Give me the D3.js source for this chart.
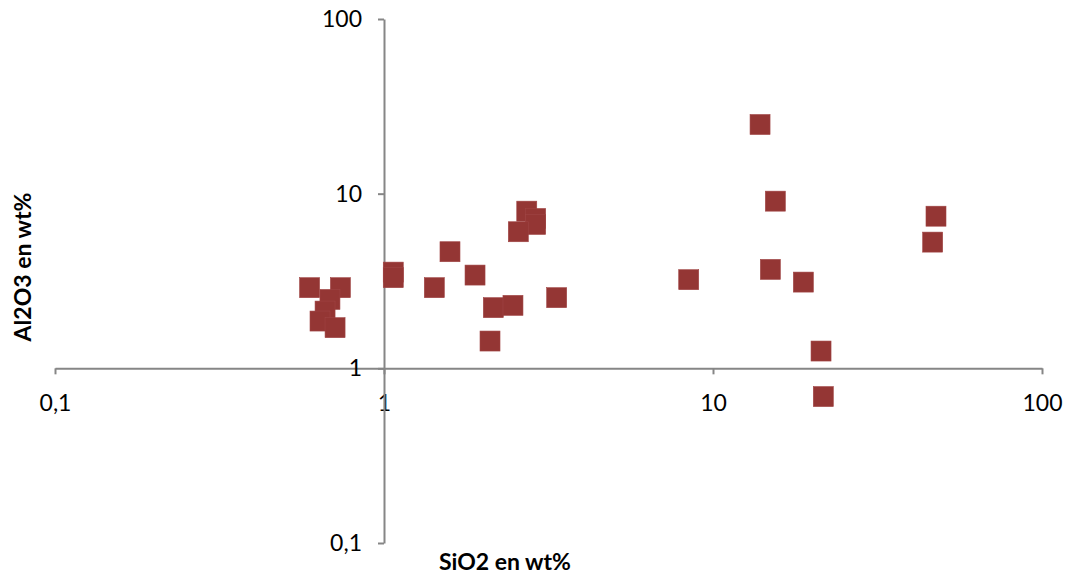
<!DOCTYPE html>
<html>
<head>
<meta charset="utf-8">
<script src="https://cdn.jsdelivr.net/npm/d3@7"></script>
<style>
  body { margin: 0; background: #fff; }
  text { font-family: Lato, "Open Sans", sans-serif; }
</style>
</head>
<body>
<svg id="chart"></svg>
<script>
const width = 1069;
const height = 576;

// SiO2 (wt%) and Al2O3 (wt%)
const sio2 = [0.594, 0.737, 0.685, 0.662, 0.639, 0.71, 1.067, 1.067, 1.422, 1.587,
  1.891, 2.149, 2.466, 2.1, 3.349, 2.716, 2.891, 2.891, 2.56, 8.437,
  13.9, 15.47, 14.94, 18.82, 21.3, 21.64, 47.62, 46.53];
const al2o3 = [2.895, 2.895, 2.48, 2.127, 1.865, 1.709, 3.555, 3.303, 2.895, 4.652,
  3.419, 2.225, 2.293, 1.433, 2.538, 7.94, 7.21, 6.665, 6.053, 3.217,
  24.88, 9.06, 3.685, 3.117, 1.256, 0.689, 7.43, 5.28];
const tickVals = [0.1, 1, 10, 100];

const svg = d3.select("#chart").attr("width", width).attr("height", height);

//scales
const x = d3.scaleLog().domain([0.1, 100]).range([55, 1042]);
const y = d3.scaleLog().domain([0.1, 100]).range([543, 19]);
const fmt = (d) => String(d).replace(".", ",");

// x axis crosses at y=1
const xAxis = svg
  .append("g")
  .attr("transform", `translate(0,${y(1)})`)
  .call(d3.axisBottom(x).tickValues(tickVals).tickFormat(fmt).tickSize(6).tickPadding(20).tickSizeOuter(0));

// y axis crosses at x=1
const yAxis = svg
  .append("g")
  .attr("transform", `translate(${x(1)},0)`)
  .call(d3.axisLeft(y).tickValues(tickVals).tickFormat(fmt).tickSize(6).tickPadding(16).tickSizeOuter(0));

[xAxis, yAxis].forEach((g) => {
  g.select(".domain").attr("stroke", "#868686").attr("stroke-width", 2);
  g.selectAll(".tick line").attr("stroke", "#868686").attr("stroke-width", 2);
  g.selectAll(".tick text")
    .attr("fill", "#000")
    .style("font-size", "23px")
    .style("font-family", "Lato, 'Open Sans', sans-serif");
});

// markers
const data = sio2.map((d, i) => ({ x: d, y: al2o3[i] }));
const s = 20;
svg
  .append("g")
  .selectAll("rect")
  .data(data)
  .join("rect")
  .attr("x", (d) => x(d.x) - s / 2)
  .attr("y", (d) => y(d.y) - s / 2)
  .attr("width", s)
  .attr("height", s)
  .attr("fill", "#943634")
  .attr("stroke", "#a04444")
  .attr("stroke-width", 0.6);

//axis titles
svg
  .append("text")
  .attr("x", 505)
  .attr("y", 570)
  .attr("text-anchor", "middle")
  .style("font-size", "23px")
  .style("font-weight", "700")
  .text("SiO2 en wt%");

svg
  .append("text")
  .attr("transform", "translate(31,267) rotate(-90)")
  .attr("text-anchor", "middle")
  .style("font-size", "23px")
  .style("font-weight", "700")
  .text("Al2O3 en wt%");
</script>
</body>
</html>
